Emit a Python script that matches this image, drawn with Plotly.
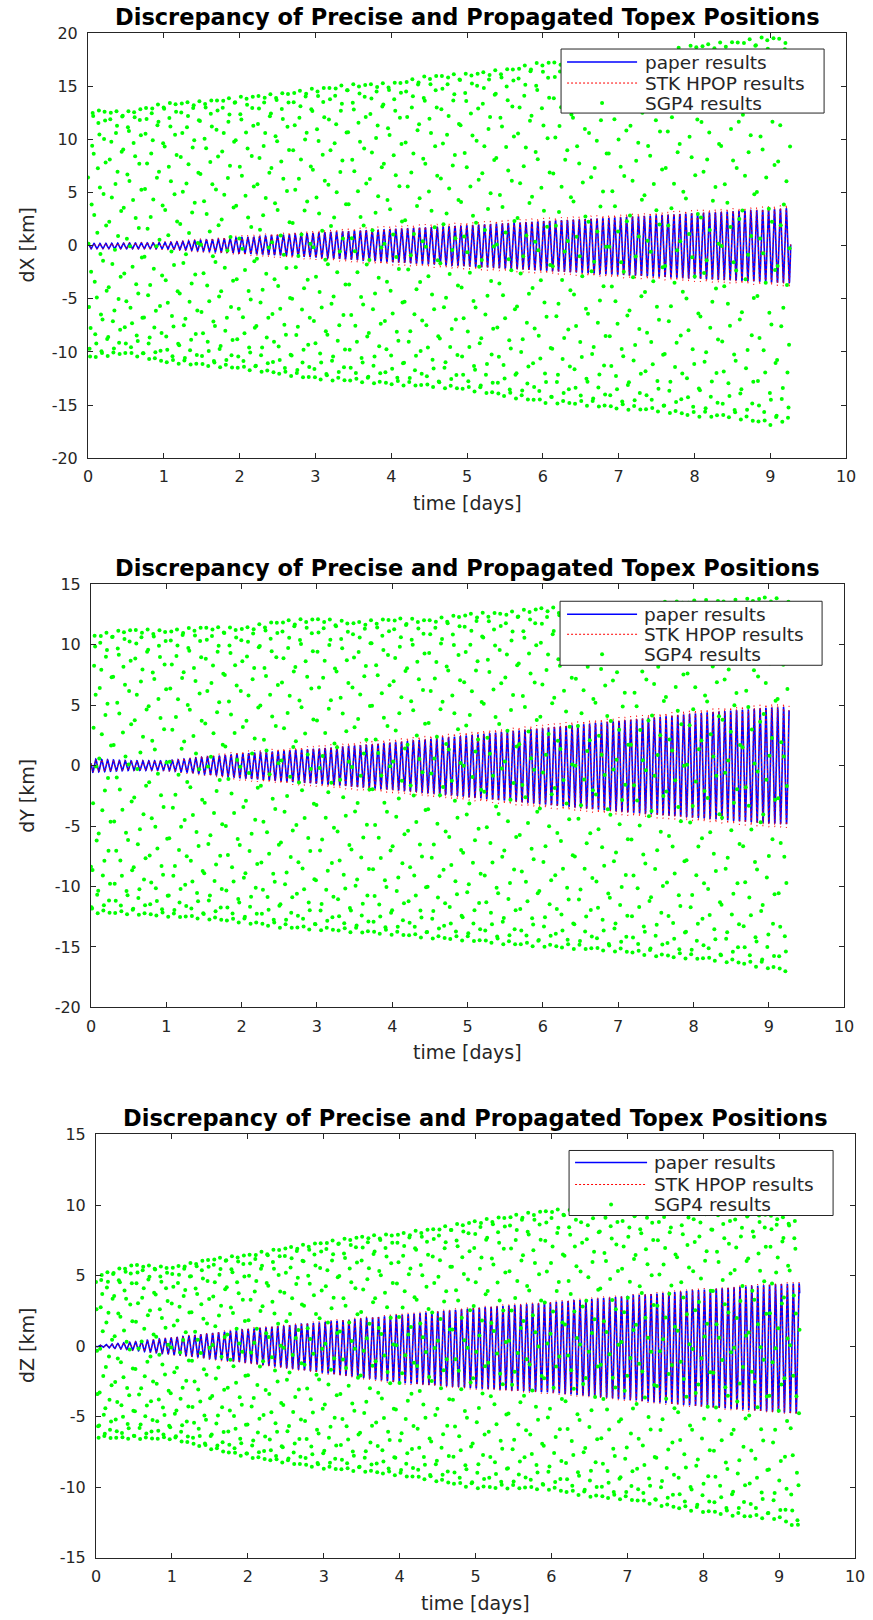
import numpy as np
import plotly.graph_objects as go

# ---------------- data ----------------
DAYS_END = 9.27          # last epoch (days)
ORBIT_MIN = 112.4        # Topex orbital period, minutes (oscillation carrier)
LINE_STEP_MIN = 2.0      # step of the paper / HPOP curves, minutes
SGP4_STEP_MIN = 9.842    # step of the SGP4 samples, minutes

# dX panel
dx_line_t = [0, 1, 2, 3, 4, 5, 6, 7, 8, 9, 9.27]
dx_paper_upper = [0.2, 0.28, 0.75, 1.2, 1.55, 1.9, 2.3, 2.65, 3.05, 3.4, 3.55]
dx_paper_lower = [-0.3, -0.3, -0.72, -1.1, -1.55, -1.95, -2.35, -2.75, -3.1, -3.45, -3.55]
dx_hpop_margin = [0.0, 0.1, 0.2, 0.25, 0.3, 0.3, 0.3, 0.3, 0.3, 0.3, 0.35]
dx_sgp4_t = [0, 0.5, 1.0, 1.5, 2.0, 2.5, 3.0, 3.5, 4.0, 4.5, 5.0, 5.5, 6.0, 6.5, 7.0, 7.5, 8.0, 8.5, 9.0, 9.27]
dx_sgp4_upper = [12.8, 12.6, 13.4, 13.6, 14.0, 14.3, 14.8, 15.2, 15.3, 16.0, 16.2, 16.6, 17.3, 17.4, 17.8, 18.2, 18.9, 19.2, 19.7, 19.4]
dx_sgp4_lower = [-10.6, -10.2, -11.0, -11.3, -11.6, -12.1, -12.6, -12.8, -13.1, -13.3, -13.6, -14.2, -14.8, -15.0, -15.4, -15.6, -16.1, -16.2, -16.9, -16.4]

# dY panel
dy_line_t = [0, 0.5, 1, 1.5, 2, 3, 4, 5, 6, 7, 8, 9, 9.27]
dy_paper_upper = [0.55, 0.4, 0.4, 0.7, 1.0, 1.4, 1.9, 2.5, 3.1, 3.7, 4.3, 4.8, 4.85]
dy_paper_lower = [-0.55, -0.4, -0.4, -0.7, -1.05, -1.5, -2.0, -2.6, -3.2, -3.8, -4.3, -4.8, -4.85]
dy_hpop_margin = [0.0, 0.0, 0.05, 0.15, 0.2, 0.25, 0.3, 0.3, 0.3, 0.3, 0.3, 0.3, 0.3]
dy_sgp4_t = [0, 0.5, 1.0, 1.5, 2.0, 2.5, 3.0, 3.5, 4.0, 4.5, 5.0, 5.5, 6.0, 6.5, 7.0, 7.5, 8.0, 8.5, 9.0, 9.27]
dy_sgp4_upper = [10.8, 11.3, 11.2, 11.5, 11.4, 12.0, 12.2, 11.9, 12.2, 12.1, 12.6, 12.7, 13.1, 13.0, 13.3, 13.5, 13.7, 13.7, 14.0, 13.6]
dy_sgp4_lower = [-12.2, -12.3, -12.5, -12.7, -13.0, -13.4, -13.6, -13.8, -14.0, -14.3, -14.5, -14.8, -15.0, -15.2, -15.4, -15.8, -16.0, -16.3, -16.8, -17.1]

# dZ panel
dz_line_t = [0, 0.5, 1, 2, 3, 4, 5, 6, 7, 8, 9, 9.27]
dz_paper_upper = [0.05, 0.3, 0.6, 1.2, 1.7, 2.2, 2.7, 3.1, 3.55, 4.0, 4.4, 4.45]
dz_paper_lower = [-0.05, -0.3, -0.6, -1.2, -1.9, -2.6, -3.0, -3.3, -3.8, -4.3, -4.7, -4.8]
dz_hpop_margin = [0.0, 0.02, 0.05, 0.1, 0.1, 0.1, 0.1, 0.1, 0.1, 0.1, 0.1, 0.1]
dz_sgp4_t = [0, 0.5, 1.0, 1.5, 2.0, 2.5, 3.0, 3.5, 4.0, 4.5, 5.0, 5.5, 6.0, 6.5, 7.0, 7.5, 8.0, 8.5, 9.0, 9.27]
dz_sgp4_upper = [5.0, 5.8, 5.6, 6.2, 6.5, 7.0, 7.4, 7.8, 8.0, 8.4, 8.9, 9.3, 9.7, 9.6, 9.6, 9.8, 9.9, 9.7, 9.2, 8.8]
dz_sgp4_lower = [-6.5, -6.6, -6.6, -7.3, -7.9, -8.3, -8.7, -8.9, -9.2, -9.6, -10.1, -10.1, -10.2, -10.7, -10.9, -11.4, -11.8, -12.1, -12.3, -13.0]

TITLE = "Discrepancy of Precise and Propagated Topex Positions"
y_labels = ["dX [km]", "dY [km]", "dZ [km]"]
x_label = "time [days]"
y_ranges = [(-20, 20), (-20, 15), (-15, 15)]
x_tickvals = [0, 1, 2, 3, 4, 5, 6, 7, 8, 9, 10]
x_ticktext = ["0", "1", "2", "3", "4", "5", "6", "7", "8", "9", "10"]
y_tickvals = [[-20, -15, -10, -5, 0, 5, 10, 15, 20],
              [-20, -15, -10, -5, 0, 5, 10, 15],
              [-15, -10, -5, 0, 5, 10, 15]]
y_ticktext = [["-20", "-15", "-10", "-5", "0", "5", "10", "15", "20"],
              ["-20", "-15", "-10", "-5", "0", "5", "10", "15"],
              ["-15", "-10", "-5", "0", "5", "10", "15"]]
series_names = ["paper results", "STK HPOP results", "SGP4 results"]
series_colors = ["rgb(0,0,255)", "rgb(255,0,0)", "rgb(0,255,0)"]

# ---------------- layout (target screen pixels of the 873x1620 picture) ----------------
W, H = 888, 1640
# observed: screen = SCALE * figure-pixel once the div is pinned to the corner
OFF_X, OFF_Y = 0.0, 0.0
SCALE_X, SCALE_Y = 0.983, 0.988
boxes = [(88, 846, 33, 458), (91, 844, 584, 1007), (96, 855, 1134, 1557)]
# legend: (box left, box right, box top, box bottom, row y's, sample x0, sample x1, text x)
legends = [(561, 824, 49, 113, (62, 83, 103), 567, 637, 643),
           (560, 822, 601, 665, (614, 634, 654), 567, 637, 642),
           (569, 833, 1150, 1215, (1162, 1184, 1204), 575, 647, 652)]

AX_COLOR = "#262626"
FONT = "DejaVu Sans"


def px(sx):
    return ((sx - OFF_X) / SCALE_X) / W


def py(sy):
    return 1 - ((sy - OFF_Y) / SCALE_Y) / H


def oscillation(t, kt, up, lo, phase):
    up_i = np.interp(t, kt, up)
    lo_i = np.interp(t, kt, lo)
    mid = 0.5 * (up_i + lo_i)
    amp = 0.5 * (up_i - lo_i)
    return mid + amp * np.cos(2 * np.pi * t * 1440.0 / ORBIT_MIN + phase)


t_line = np.arange(0, DAYS_END, LINE_STEP_MIN / 1440.0)
t_dot = np.arange(0, DAYS_END, SGP4_STEP_MIN / 1440.0)

panels = [
    (dx_line_t, dx_paper_upper, dx_paper_lower, dx_hpop_margin, dx_sgp4_t, dx_sgp4_upper, dx_sgp4_lower, 0.0, 1.1),
    (dy_line_t, dy_paper_upper, dy_paper_lower, dy_hpop_margin, dy_sgp4_t, dy_sgp4_upper, dy_sgp4_lower, 1.2, 2.3),
    (dz_line_t, dz_paper_upper, dz_paper_lower, dz_hpop_margin, dz_sgp4_t, dz_sgp4_upper, dz_sgp4_lower, 2.1, 0.4),
]

fig = go.Figure()
shapes = []

for i, (lt, pu, pl, hm, st, su, sl, ph_line, ph_dot) in enumerate(panels):
    n = "" if i == 0 else str(i + 1)
    xa, ya = "x" + n, "y" + n
    paper = oscillation(t_line, lt, pu, pl, ph_line)
    hu = list(np.array(pu) + np.array(hm))
    hl = list(np.array(pl) - np.array(hm))
    hpop = oscillation(t_line, lt, hu, hl, ph_line + 0.06)
    sgp4 = oscillation(t_dot, st, su, sl, ph_dot)

    fig.add_trace(go.Scatter(x=t_line, y=paper, mode="lines", name=series_names[0],
                             line=dict(color=series_colors[0], width=1.6),
                             xaxis=xa, yaxis=ya, showlegend=False))
    fig.add_trace(go.Scatter(x=t_line, y=hpop, mode="lines", name=series_names[1],
                             line=dict(color=series_colors[1], width=0.9, dash="1.5px,3px"),
                             xaxis=xa, yaxis=ya, showlegend=False))
    fig.add_trace(go.Scatter(x=t_dot, y=sgp4, mode="markers", name=series_names[2],
                             marker=dict(color=series_colors[2], size=4, line=dict(width=0)),
                             xaxis=xa, yaxis=ya, showlegend=False))

    left, right, top, bottom = boxes[i]
    axis_common = dict(showline=True, linecolor=AX_COLOR, linewidth=1, mirror="ticks",
                       ticks="inside", ticklen=5, tickcolor=AX_COLOR, tickwidth=1,
                       showgrid=False, zeroline=False,
                       tickfont=dict(family=FONT, size=16, color=AX_COLOR))
    fig.layout["xaxis" + n] = dict(domain=[px(left), px(right)], anchor=ya,
                                   range=[0, 10], tickmode="array",
                                   tickvals=x_tickvals, ticktext=x_ticktext,
                                   ticklabelstandoff=4, **axis_common)
    fig.layout["yaxis" + n] = dict(domain=[py(bottom), py(top)], anchor=xa,
                                   range=list(y_ranges[i]), tickmode="array",
                                   tickvals=y_tickvals[i], ticktext=y_ticktext[i],
                                   ticklabelstandoff=6, **axis_common)

    # ---- legend drawn as shapes + text (MATLAB-style box) ----
    bl, br, bt, bb, rows, sx0, sx1, tx = legends[i]
    shapes.append(dict(type="rect", xref="paper", yref="paper",
                       x0=px(bl), x1=px(br), y0=py(bb), y1=py(bt),
                       line=dict(color=AX_COLOR, width=1), fillcolor="white", layer="above"))
    shapes.append(dict(type="line", xref="paper", yref="paper",
                       x0=px(sx0), x1=px(sx1), y0=py(rows[0]), y1=py(rows[0]),
                       line=dict(color=series_colors[0], width=1.5), layer="above"))
    shapes.append(dict(type="line", xref="paper", yref="paper",
                       x0=px(sx0), x1=px(sx1), y0=py(rows[1]), y1=py(rows[1]),
                       line=dict(color=series_colors[1], width=1, dash="2px,2px"), layer="above"))
    dcx, dcy = (sx0 + sx1) / 2, rows[2]
    shapes.append(dict(type="circle", xref="paper", yref="paper",
                       x0=px(dcx - 2), x1=px(dcx + 2), y0=py(dcy + 2), y1=py(dcy - 2),
                       line=dict(width=0), fillcolor=series_colors[2], layer="above"))
    for k in range(3):
        fig.add_annotation(text=series_names[k], x=px(tx), y=py(rows[k]),
                           xref="paper", yref="paper", showarrow=False,
                           xanchor="left", yanchor="middle",
                           font=dict(family=FONT, size=18.5, color=AX_COLOR))

    cx = (left + right) / 2
    fig.add_annotation(text="<b>" + TITLE + "</b>", x=px(cx), y=py(top - 16),
                       xref="paper", yref="paper", showarrow=False,
                       xanchor="center", yanchor="middle",
                       font=dict(family=FONT, size=22.5, color="black"))
    fig.add_annotation(text=x_label, x=px(cx), y=py(bottom + 45),
                       xref="paper", yref="paper", showarrow=False,
                       xanchor="center", yanchor="middle",
                       font=dict(family=FONT, size=19, color=AX_COLOR))
    fig.add_annotation(text=y_labels[i], x=px(27), y=py((top + bottom) / 2),
                       xref="paper", yref="paper", showarrow=False, textangle=-90,
                       xanchor="center", yanchor="middle",
                       font=dict(family=FONT, size=19, color=AX_COLOR))

fig.update_layout(width=W, height=H, margin=dict(l=0, r=0, t=0, b=0),
                  paper_bgcolor="white", plot_bgcolor="white", showlegend=False,
                  shapes=shapes)

post = ("var b=document.body;b.style.margin='0px';b.style.padding='0px';"
        "b.style.overflow='hidden';document.documentElement.style.overflow='hidden';"
        "var g=document.getElementById('{plot_id}');"
        "g.style.position='absolute';g.style.left='-4.6px';g.style.top='-8.8px';")
fig.write_html("out.html", config={"displayModeBar": False}, post_script=post)
